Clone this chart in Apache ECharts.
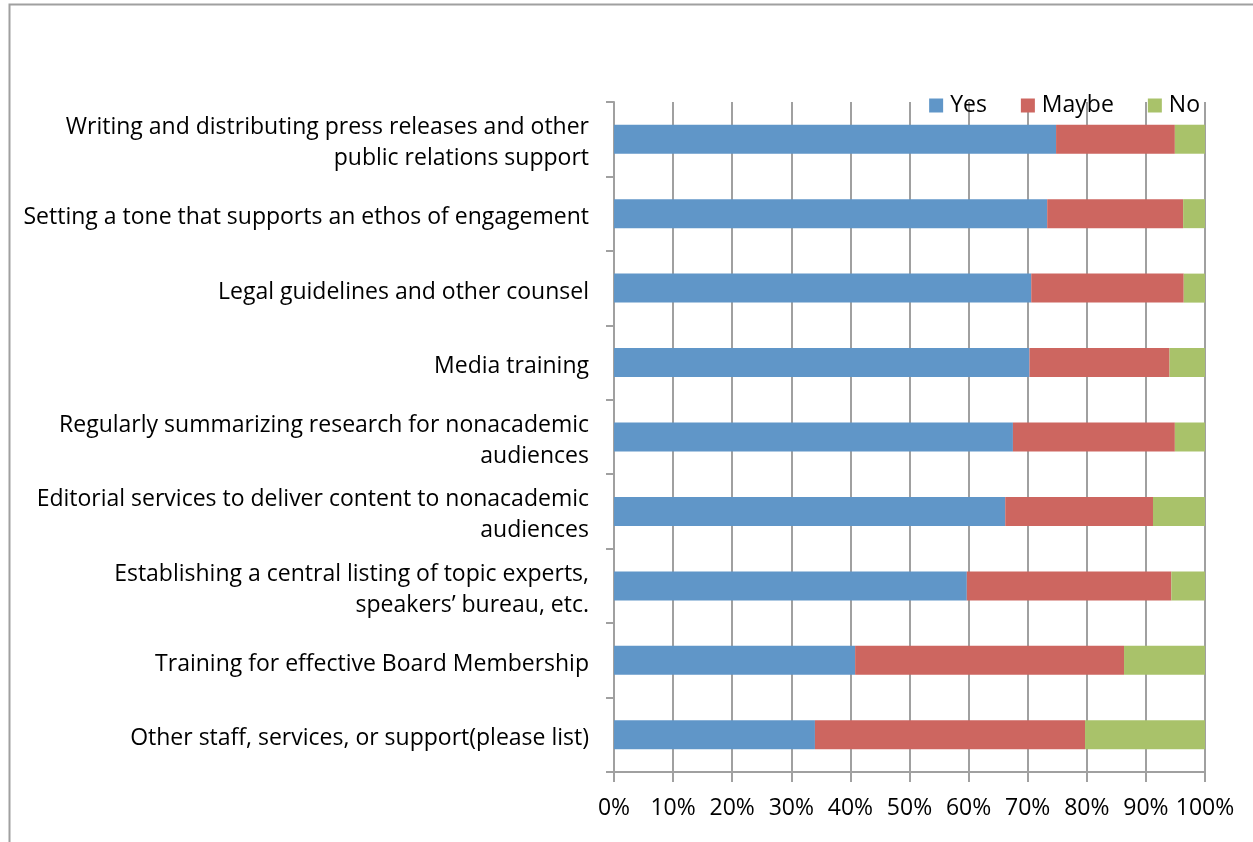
<!DOCTYPE html>
<html>
<head>
<meta charset="utf-8">
<script src="https://cdn.jsdelivr.net/npm/echarts@6/dist/echarts.min.js"></script>
<style>html,body{margin:0;padding:0;background:#fff;}#chart{width:1253px;height:842px;}</style>
</head>
<body>
<div id="chart"></div>
<script>
const categories = [
  "Writing and distributing press releases and other\npublic relations support",
  "Setting a tone that supports an ethos of engagement",
  "Legal guidelines and other counsel",
  "Media training",
  "Regularly summarizing research for nonacademic\naudiences",
  "Editorial services to deliver content to nonacademic\naudiences",
  "Establishing a central listing of topic experts,\nspeakers\u2019 bureau, etc.",
  "Training for effective Board Membership",
  "Other staff, services, or support(please list)"
];
const yesValues   = [74.8, 73.3, 70.6, 70.3, 67.5, 66.2, 59.7, 40.8, 34.0];
const maybeValues = [20.1, 23.0, 25.8, 23.7, 27.4, 25.0, 34.6, 45.5, 45.7];
const noValues    = [5.1, 3.7, 3.6, 6.0, 5.1, 8.8, 5.7, 13.7, 20.3];
const seriesNames = ["Yes", "Maybe", "No"];
const colors = ["#6096c8", "#cd6660", "#a9c26a"];

const FONT = "'Open Sans', sans-serif";
const chart = echarts.init(document.getElementById('chart'), null, {renderer: 'canvas'});
const dataSets = [yesValues, maybeValues, noValues];
chart.setOption({
  animation: false,
  backgroundColor: '#fff',
  textStyle: {fontFamily: FONT},
  graphic: [{
    type: 'rect', left: 7, top: 2, silent: true,
    shape: {width: 1300, height: 900},
    style: {fill: 'none', stroke: '#a0a0a0', lineWidth: 2}
  }],
  legend: {
    right: 48, top: 89, itemWidth: 14, itemHeight: 14, itemGap: 34,
    icon: 'rect',
    textStyle: {fontSize: 23, color: '#000', fontFamily: FONT, padding: [0, 0, 0, 2]},
    data: seriesNames
  },
  grid: {left: 614, right: 48, top: 102, bottom: 70, containLabel: false},
  xAxis: {
    type: 'value', min: 0, max: 100, interval: 10,
    axisLine: {show: true, lineStyle: {color: '#a0a0a0', width: 2}},
    axisTick: {show: true, length: 10, lineStyle: {color: '#a0a0a0', width: 2}},
    axisLabel: {formatter: '{value}%', fontSize: 23, color: '#000', margin: 25, fontFamily: FONT},
    splitLine: {show: true, lineStyle: {color: '#a0a0a0', width: 2}}
  },
  yAxis: {
    type: 'category', inverse: true, data: categories,
    axisLine: {show: true, lineStyle: {color: '#a0a0a0', width: 2}},
    axisTick: {show: true, length: 8, lineStyle: {color: '#a0a0a0', width: 2}},
    axisLabel: {
      fontSize: 23, color: '#000', margin: 25, lineHeight: 31, align: 'right', fontFamily: FONT,
      formatter: v => v.split('\n').map(l => '{a|' + l + '}').join('\n'),
      rich: {a: {fontSize: 23, color: '#000', fontFamily: FONT, lineHeight: 31, padding: [8, 0, 0, 0]}}
    }
  },
  series: seriesNames.map((n, i) => ({
    name: n, type: 'bar', stack: 'total', barWidth: 29,
    itemStyle: {color: colors[i]},
    data: dataSets[i]
  }))
});
</script>
</body>
</html>
